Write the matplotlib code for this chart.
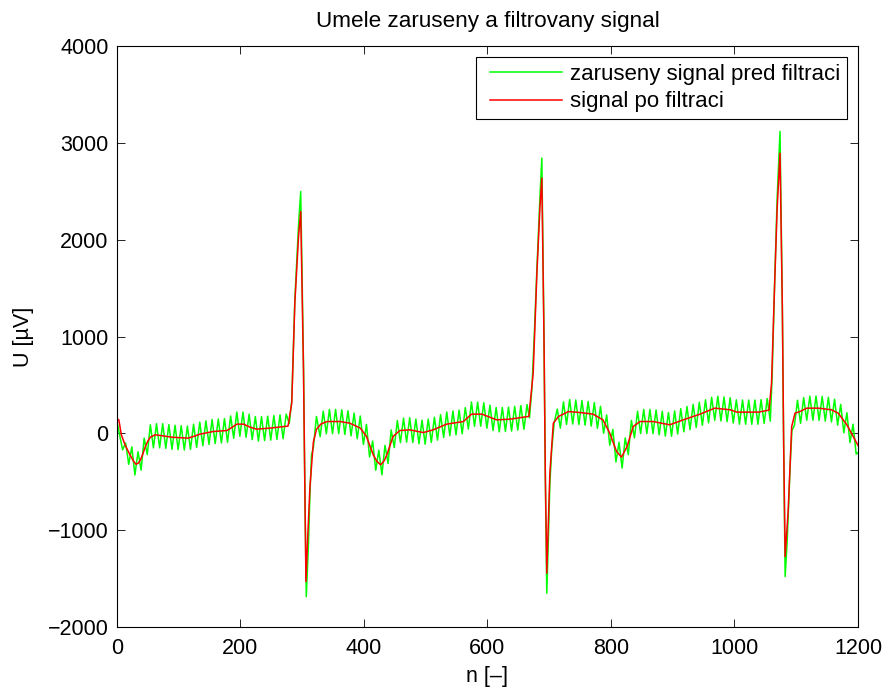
import matplotlib
matplotlib.use("Agg")
import matplotlib.pyplot as plt
from matplotlib.legend_handler import HandlerLine2D

plt.rcParams['font.family'] = ['Liberation Sans', 'DejaVu Sans']

# ---------------- data ----------------
title = "Umele zaruseny a filtrovany signal"
xlabel = "n [\u2013]"
ylabel = "U [\u00b5V]"
label_noisy = "zaruseny signal pred filtraci"
label_filt = "signal po filtraci"

x_ticks = [0, 200, 400, 600, 800, 1000, 1200]
y_ticks = [-2000, -1000, 0, 1000, 2000, 3000, 4000]

# filtered signal (red) - vertices
red_n = [0, 3, 7, 13, 21, 27, 31, 35, 38, 42, 46, 50, 54, 62, 73, 89, 115, 125, 134, 156,
         178, 186, 194, 205, 215, 226, 248, 277, 283, 288, 294, 297.5, 302, 304.5, 306,
         309, 312.5, 318, 323, 330, 340, 361, 377, 394, 404, 415, 421, 427, 433, 438, 447,
         458, 474, 496, 512, 534, 561, 574, 591, 615, 636, 667, 674, 680, 685, 688, 691.5,
         693.6, 696, 701, 706.6, 715, 731, 750, 771, 787, 798, 809, 817, 826, 836, 847,
         868, 895, 917, 944, 968, 993, 1004, 1039, 1056, 1060, 1064.5, 1069, 1073.7,
         1077.5, 1079.6, 1082, 1087, 1092.6, 1098, 1106, 1117, 1136, 1157, 1168, 1182,
         1198, 1200]
red_v = [150, 139, -15, -119, -222, -290, -320, -305, -274, -210, -136, -80, -40, -15, -25,
         -40, -50, -30, -9, 19, 29, 60, 95, 95, 65, 43, 54, 75, 312, 1345, 2033, 2290, 656,
         -721, -1530, -1050, -550, -90, 40, 95, 122, 122, 105, 54, -33, -222, -290, -325,
         -280, -205, -33, 29, 36, 8, 36, 95, 122, 198, 198, 139, 146, 175, 622, 1655, 2343,
         2636, 966, -411, -1444, -411, 105, 174, 225, 215, 198, 139, 2, -188, -246, -136,
         70, 122, 122, 88, 139, 198, 260, 243, 219, 219, 240, 520, 1448, 2309, 2894, 1276,
         -101, -1273, -790, 70, 208, 225, 260, 260, 243, 208, 88, -101, -125]

# noisy signal (green) - vertices at its peaks/troughs and along the QRS spikes
green_n = [0, 9, 14, 19, 24, 29, 34, 39, 44, 49, 54, 59, 64, 69, 74, 79, 84, 89, 94, 99,
           104, 109, 114, 119, 124, 129, 134, 139, 144, 149, 154, 159, 164, 169, 174, 179,
           184, 189, 194, 199, 204, 209, 214, 219, 224, 229, 234, 239, 244, 249, 254, 259,
           264, 269, 274,
           279, 283, 288, 294, 297.5, 302, 304.5, 306.5, 310, 312.5, 315, 318, 323,
           329, 334, 339, 344, 349, 354, 359, 364, 369, 374, 379, 384, 389, 394, 399, 404,
           409, 414, 419, 424, 429, 434, 439, 444, 449, 454, 459, 464, 469, 474, 479, 484,
           489, 494, 499, 504, 509, 514, 519, 524, 529, 534, 539, 544, 549, 554, 559, 564,
           569, 574, 579, 584, 589, 594, 599, 604, 609, 614, 619, 624, 629, 634, 639, 644,
           649, 654, 659, 664,
           668, 672, 676, 680, 685, 688, 691.5, 693.6, 696, 699, 701, 704, 708, 713,
           718, 723, 728, 733, 738, 743, 748, 753, 758, 763, 768, 773, 778, 783, 788, 793,
           798, 803, 808, 813, 818, 823, 828, 833, 838, 843, 848, 853, 858, 863, 868, 873,
           878, 883, 888, 893, 898, 903, 908, 913, 918, 923, 928, 933, 938, 943, 948, 953,
           958, 963, 968, 973, 978, 983, 988, 993, 998, 1003, 1008, 1013, 1018, 1023, 1028,
           1033, 1038, 1043, 1048, 1053,
           1058, 1061, 1065, 1069, 1073.7, 1077.5, 1079.6, 1082, 1085, 1087, 1090, 1093, 1097,
           1102, 1107, 1112, 1117, 1122, 1127, 1132, 1137, 1142, 1147, 1152, 1157, 1162,
           1167, 1172, 1177, 1182, 1187, 1192, 1197, 1200]
green_v = [120, -170, -100, -320, -140, -430, -190, -380, -50, -220, 88, -150, 100, -150,
           100, -155, 90, -165, 83, -168, 79, -172, 75, -166, 94, -145, 116, -128, 129, -115,
           142, -105, 148, -100, 152, -92, 179, -51, 220, -30, 220, -40, 198, -65, 173, -80,
           172, -75, 177, -70, 184, -63, 191, -56, 198,
           100, 340, 1380, 2150, 2498, 720, -720, -1686, -1150, -620, -220, -150, 174,
           -35, 229, -5, 247, -3, 247, -3, 244, -11, 233, -26, 209, -56, 179, -115, 92, -244,
           -80, -381, -174, -428, -124, -311, 35, -147, 132, -96, 157, -91, 161, -95, 148,
           -108, 136, -112, 147, -94, 166, -70, 193, -43, 220, -25, 230, -15, 240, -5, 265,
           44, 323, 73, 323, 73, 316, 53, 291, 29, 266, 15, 267, 19, 270, 24, 279, 33, 287,
           42, 297,
           160, 470, 1050, 1700, 2450, 2843, 1000, -420, -1651, -1000, -520, -170, 110, 250,
           54, 325, 91, 349, 96, 344, 91, 338, 84, 329, 75, 318, 51, 279, 1, 189, -123, 41,
           -296, -92, -359, -48, -220, 133, -46, 228, -3, 247, -3, 247, -3, 241, -16, 228,
           -28, 215, -30, 232, -7, 255, 16, 277, 38, 299, 60, 321, 83, 346, 109, 372, 135,
           382, 128, 375, 121, 368, 107, 346, 94, 344, 94, 344, 94, 344, 94, 348, 103, 359,
           125, 600, 1550, 2420, 3118, 1300, -120, -1479, -1150, -850, -350, 30, 80,
           342, 103, 369, 135, 385, 135, 385, 134, 381, 126, 372, 118, 352, 86, 299, 6, 213,
           -96, 95, -214, -200]


class InsetLineHandler(HandlerLine2D):
    """Legend line that leaves an empty gap at the left of its handle box."""
    def __init__(self, gap_px, **kw):
        super().__init__(**kw)
        self.gap_px = gap_px

    def create_artists(self, legend, orig_handle, xdescent, ydescent, width, height,
                       fontsize, trans):
        arts = super().create_artists(legend, orig_handle, xdescent, ydescent, width,
                                      height, fontsize, trans)
        line = arts[0]
        xd = list(line.get_xdata())
        if len(xd) >= 2:
            gap = self.gap_px * 72.0 / legend.figure.dpi
            line.set_xdata([xd[0] + gap, xd[-1]])
            line.set_ydata([line.get_ydata()[0]] * 2)
        return arts


# ---------------- figure ----------------
W, H = 887, 691
fig = plt.figure(figsize=(W / 100, H / 100), dpi=100)
ax = fig.add_axes([117 / W, 1 - 627 / H, 741 / W, 581 / H])

l1, = ax.plot(green_n, green_v, color=(0, 1, 0), lw=1.1, label=label_noisy)
l2, = ax.plot(red_n, red_v, color=(1, 0, 0), lw=1.1, label=label_filt)

FS = 15.5
ax.set_xlim(0, 1200)
ax.set_ylim(-2000, 4000)
ax.set_xticks(x_ticks)
ax.set_yticks(y_ticks)
ax.tick_params(direction='in', length=6, width=0.6, top=True, right=True,
               labelsize=FS, colors='black')
ax.tick_params(axis='x', pad=8)
ax.tick_params(axis='y', pad=6)
for s in ax.spines.values():
    s.set_linewidth(0.8)
    s.set_color('black')

ax.set_title(title, fontsize=16.2, pad=14)
ax.set_xlabel(xlabel, fontsize=FS, labelpad=5)
ax.set_ylabel(ylabel, fontsize=FS, labelpad=10)

hm = {l1: InsetLineHandler(7.3), l2: InsetLineHandler(7.3)}
leg = ax.legend(handles=[l1, l2], handler_map=hm,
                loc='upper right', bbox_to_anchor=(1 - 11.3 / 741, 1 - 11.3 / 581),
                borderaxespad=0, fontsize=16, handlelength=3.55, handletextpad=0.37,
                labelspacing=0.29, borderpad=0.3, fancybox=False, framealpha=1,
                edgecolor='black')
leg.get_frame().set_linewidth(0.8)

fig.savefig("out.png", dpi=100)
